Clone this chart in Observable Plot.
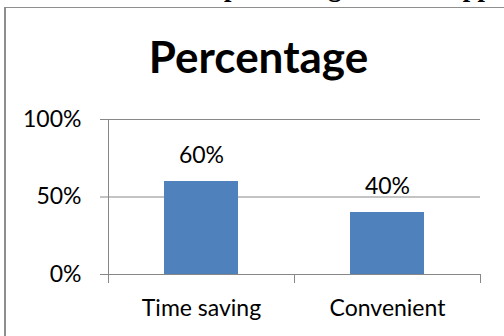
<!DOCTYPE html>
<html>
<head>
<meta charset="utf-8">
<script src="https://cdn.jsdelivr.net/npm/d3@7"></script>
<script src="https://cdn.jsdelivr.net/npm/@observablehq/plot@0.6"></script>
<style>
  html, body { margin: 0; padding: 0; background: #fff; }
  #page { position: relative; width: 504px; height: 336px; overflow: hidden; background: #fff; }
  #caption {
    position: absolute; left: -14px; top: -26px; white-space: nowrap;
    font: bold 26.6px/26.6px "Liberation Serif", "Times New Roman", serif; color: #000;
  }
  #box {
    position: absolute; left: 4px; top: 7px; width: 540px; height: 360px;
    border-left: 2px solid #8e8e8e; border-top: 1px solid #8e8e8e;
  }
  #chart { position: absolute; left: 0; top: 0; }
</style>
</head>
<body>
<div id="page">
  <div id="caption"></div>
  <div id="box"></div>
  <div id="chart"></div>
</div>
<script>
// Reasons for preferring online shopping
const tableCaption = "Table 3: Reasons for preferring online shopping";
const chartTitle = "Percentage";
const categories = ["Time saving", "Convenient"];
const shares = [0.60, 0.40];
const yTicks = [0, 0.5, 1];

const rows = categories.map((category, i) => ({category, share: shares[i]}));
const pct = d3.format(".0%");
const GRID = "#878787";
const BAR = "#4f81bd";

document.getElementById("caption").textContent = tableCaption;

// Vertical axis line plus short ticks on the category boundaries below the baseline
function categoryBoundaries(len) {
  return (index, scales, values, dimensions) => {
    const x = scales.x;
    const step = x.step(), bw = x.bandwidth();
    const top = dimensions.marginTop;
    const base = dimensions.height - dimensions.marginBottom;
    const dom = x.domain();
    const edges = dom.map(d => x(d) + bw / 2 - step / 2);
    edges.push(x(dom[dom.length - 1]) + bw / 2 + step / 2);
    const g = d3.create("svg:g").attr("stroke", GRID).attr("stroke-width", 1);
    edges.forEach((e, i) => {
      const xe = Math.round(e) + 0.5;
      g.append("line").attr("x1", xe).attr("x2", xe)
        .attr("y1", i === 0 ? top : base).attr("y2", base + len);
    });
    return g.node();
  };
}

const chart = Plot.plot({
  width: 504,
  height: 336,
  marginTop: 119,
  marginLeft: 108,
  marginRight: 24,
  marginBottom: 62,
  style: {fontFamily: "Lato, 'Open Sans', sans-serif", fontSize: "23px", color: "#000", background: "transparent", overflow: "visible"},
  x: {type: "band", domain: categories, paddingInner: 0.6, paddingOuter: 0.3, label: null},
  y: {domain: [0, 1], label: null},
  marks: [
    Plot.ruleY(yTicks, {stroke: GRID}),
    Plot.axisY({ticks: yTicks, tickFormat: pct, tickSize: 8, tickPadding: 19, stroke: GRID, label: null}),
    Plot.axisX({tickSize: 0, tickPadding: 25, label: null}),
    Plot.barY(rows, {x: "category", y: "share", fill: BAR}),
    Plot.text(rows, {x: "category", y: "share", text: d => pct(d.share), dy: -26, lineAnchor: "middle"}),
    Plot.text([chartTitle], {frameAnchor: "top", text: d => d, lineAnchor: "bottom", dy: -47, dx: -36, fontSize: 44, fontWeight: "bold"}),
    categoryBoundaries(9)
  ]
});

document.getElementById("chart").appendChild(chart);
</script>
</body>
</html>
